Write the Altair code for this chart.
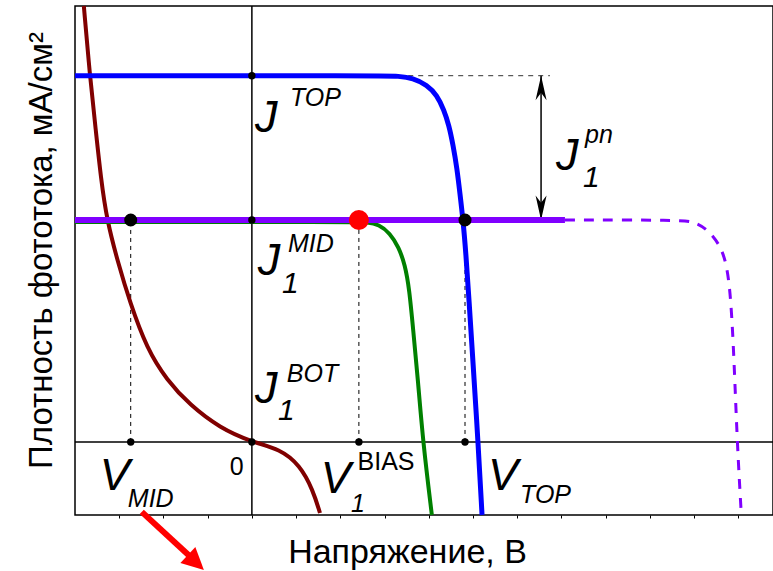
import altair as alt
import pandas as pd

FONT = "Liberation Sans"

# ---- axes (data units: V and mA/cm^2) ----
x_domain = [-0.80, 2.357]
y_domain = [-3.29, 19.64]
x_ticks = [-0.6, -0.4, -0.2, 0.0, 0.2, 0.4, 0.6, 0.8, 1.0, 1.2, 1.4, 1.6, 1.8, 2.0, 2.2]

J_TOP = 16.5
J_MID = 10.0
V_MID = -0.548
V_BIAS = 0.484
V_TOP = 0.964

# ---- curves ----
blue_v = [-0.80, 0.60, 0.660, 0.729, 0.792, 0.837, 0.869, 0.891, 0.910, 0.928, 0.941, 0.955, 0.968, 0.982, 1.000, 1.023, 1.041]
blue_j = [16.5, 16.5, 16.48, 16.40, 16.08, 15.63, 14.95, 14.28, 13.38, 12.30, 11.20, 10.0, 8.50, 6.40, 3.60, 0.0, -3.29]

green_v = [-0.80, 0.470, 0.520, 0.575, 0.624, 0.664, 0.692, 0.712, 0.730, 0.751, 0.774, 0.814]
green_j = [9.91, 9.91, 9.90, 9.80, 9.41, 8.78, 8.00, 6.90, 5.00, 2.80, 0.0, -3.29]

purple_v = [-0.80, 1.416]
purple_j = [10.0, 10.0]

purple_dash_v = [1.416, 1.937, 2.005, 2.063, 2.118, 2.149, 2.167, 2.181, 2.195, 2.213]
purple_dash_j = [10.0, 10.0, 9.91, 9.55, 8.87, 7.97, 6.40, 3.69, 0.0, -3.15]

maroon_v = [-0.760, -0.733, -0.706, -0.683, -0.656, -0.606, -0.552, -0.475, -0.385, -0.281, -0.145, 0.0, 0.127, 0.217, 0.276, 0.308]
maroon_j = [19.64, 16.53, 14.05, 11.90, 10.0, 8.10, 6.30, 4.20, 2.79, 1.67, 0.63, 0.0, -0.32, -1.04, -2.16, -3.20]

# ---- guide lines / markers ----
drop_v = [V_MID, V_BIAS, V_TOP]
top_dash_v = [0.30, 1.348]
arrow_v = 1.308

small_dot_v = [0.0, 0.0, V_MID, 0.0, V_BIAS, V_TOP]
small_dot_j = [J_TOP, J_MID, 0.0, 0.0, 0.0, 0.0]
big_dot_v = [V_MID, V_TOP]
big_dot_j = [J_MID, J_MID]
red_dot_v = [V_BIAS]
red_dot_j = [J_MID]

red_arrow_v = [-0.498, -0.267]
red_arrow_j = [-3.15, -5.27]
red_tip_v = [-0.217]
red_tip_j = [-5.77]

# ---- labels ----
main_text = ["J", "J", "J", "J", "V", "V", "V"]
main_v = [0.014, 0.027, 0.014, 1.376, -0.688, 0.312, 1.068]
main_j = [13.96, 7.52, 1.76, 12.25, -2.16, -2.30, -2.16]

script_text = ["TOP", "MID", "BOT", "pn", "MID", "TOP"]
script_v = [0.172, 0.163, 0.158, 1.507, -0.561, 1.213]
script_j = [15.14, 8.56, 2.70, 13.47, -2.93, -2.75]

one_text = ["1", "1", "1"]
one_v = [0.136, 0.118, 1.498]
one_j = [6.71, 0.99, 11.49]

bias_one_text = ["1"]
bias_one_v = [0.448]
bias_one_j = [-3.15]

upright_text = ["BIAS", "0"]
upright_v = [0.478, -0.100]
upright_j = [-1.26, -1.49]

# ---------------------------------------------------------------
xs = alt.Scale(domain=x_domain, nice=False, zero=False)
ys = alt.Scale(domain=y_domain, nice=False, zero=False)

x_axis = alt.Axis(values=x_ticks, labels=False, ticks=True, tickSize=3, tickColor="black",
                  tickWidth=1, grid=False, domain=False,
                  title="Напряжение, В", titleFont=FONT, titleFontSize=34,
                  titleFontWeight="normal", titleColor="black",
                  titleX=332, titleY=47, titleBaseline="alphabetic")
y_axis = alt.Axis(labels=False, ticks=False, grid=False, domain=False,
                  title="Плотность фототока, мА/см²", titleFont=FONT, titleFontSize=33,
                  titleFontWeight="normal", titleColor="black",
                  titleX=-24, titleY=244, titleAngle=270, titleBaseline="alphabetic")

X = alt.X("v:Q", scale=xs, axis=x_axis)
Y = alt.Y("j:Q", scale=ys, axis=y_axis)


def df(v, j):
    return pd.DataFrame({"v": v, "j": j, "i": list(range(len(v)))})


def curve(v, j, color, width, dash=None, interp="basis"):
    kw = dict(color=color, strokeWidth=width, interpolate=interp, strokeCap="butt")
    if dash:
        kw["strokeDash"] = dash
    return alt.Chart(df(v, j)).mark_line(**kw).encode(x=X, y=Y, order="i:Q")


axes_v = alt.Chart(pd.DataFrame({"v": [0.0]})).mark_rule(color="black", strokeWidth=1.5).encode(x=X)
axes_h = alt.Chart(pd.DataFrame({"j": [0.0]})).mark_rule(color="black", strokeWidth=1.5).encode(y=Y)

drops = alt.Chart(pd.DataFrame({"v": drop_v, "j": [0.0] * 3, "j2": [J_MID] * 3})).mark_rule(
    color="black", strokeWidth=1, strokeDash=[4, 4]).encode(x=X, y=Y, y2="j2:Q")

top_dash = alt.Chart(df(top_dash_v, [J_TOP, J_TOP])).mark_line(
    color="#333333", strokeWidth=1, strokeDash=[5, 5]).encode(x=X, y=Y, order="i:Q")

arrow_shaft = alt.Chart(df([arrow_v, arrow_v], [J_MID, J_TOP])).mark_line(
    color="black", strokeWidth=1.5).encode(x=X, y=Y, order="i:Q")
arrow_up = alt.Chart(df([arrow_v], [J_TOP])).mark_point(
    shape="M0,0 L0.45,2 L0,1.4 L-0.45,2 Z", size=600, filled=True, opacity=1,
    color="black", strokeWidth=0).encode(x=X, y=Y)
arrow_dn = alt.Chart(df([arrow_v], [J_MID])).mark_point(
    shape="M0,0 L0.45,-2 L0,-1.4 L-0.45,-2 Z", size=600, filled=True, opacity=1,
    color="black", strokeWidth=0).encode(x=X, y=Y)

maroon = curve(maroon_v, maroon_j, "#800000", 4)
green = curve(green_v, green_j, "#008000", 4)
purple = curve(purple_v, purple_j, "#8000FF", 6, interp="linear")
purple_dash = curve(purple_dash_v, purple_dash_j, "#8000FF", 3, [10, 9])
blue = curve(blue_v, blue_j, "#0000FF", 5)

small_dots = alt.Chart(df(small_dot_v, small_dot_j)).mark_circle(
    color="black", size=55, opacity=1).encode(x=X, y=Y)
big_dots = alt.Chart(df(big_dot_v, big_dot_j)).mark_circle(
    color="black", size=170, opacity=1).encode(x=X, y=Y)
red_dot = alt.Chart(df(red_dot_v, red_dot_j)).mark_circle(
    color="#FF0000", size=400, opacity=1).encode(x=X, y=Y)

red_shaft = alt.Chart(df(red_arrow_v, red_arrow_j)).mark_line(
    color="#FF0000", strokeWidth=6).encode(x=X, y=Y, order="i:Q")
red_head = alt.Chart(df(red_tip_v, red_tip_j)).mark_point(
    shape="M0,0 L1,2 L-1,2 Z", angle=133, size=480, filled=True, opacity=1,
    color="#FF0000", strokeWidth=0).encode(x=X, y=Y)


def labels(text, v, j, size, italic=True):
    d = pd.DataFrame({"t": text, "v": v, "j": j})
    kw = dict(align="left", baseline="alphabetic", font=FONT, fontSize=size, color="black")
    if italic:
        kw["fontStyle"] = "italic"
    return alt.Chart(d).mark_text(**kw).encode(x=X, y=Y, text="t:N")


main_lbl = labels(main_text, main_v, main_j, 45)
script_lbl = labels(script_text, script_v, script_j, 25)
one_lbl = labels(one_text, one_v, one_j, 30)
bias_one_lbl = labels(bias_one_text, bias_one_v, bias_one_j, 25)
upright_lbl = labels(upright_text, upright_v, upright_j, 25, italic=False)

chart = alt.layer(
    axes_v, axes_h, drops, top_dash, arrow_shaft, arrow_up, arrow_dn,
    maroon, green, purple, purple_dash, blue,
    small_dots, big_dots, red_dot, red_shaft, red_head,
    main_lbl, script_lbl, one_lbl, bias_one_lbl, upright_lbl,
).properties(
    width=698, height=509,
    padding={"left": 75, "top": 6, "right": 0, "bottom": 56},
    autosize=alt.AutoSizeParams(type="none"),
    background="white",
).configure_view(stroke="black", strokeWidth=1.5)

chart.save("out.html", embed_options={"renderer": "svg", "actions": False})
